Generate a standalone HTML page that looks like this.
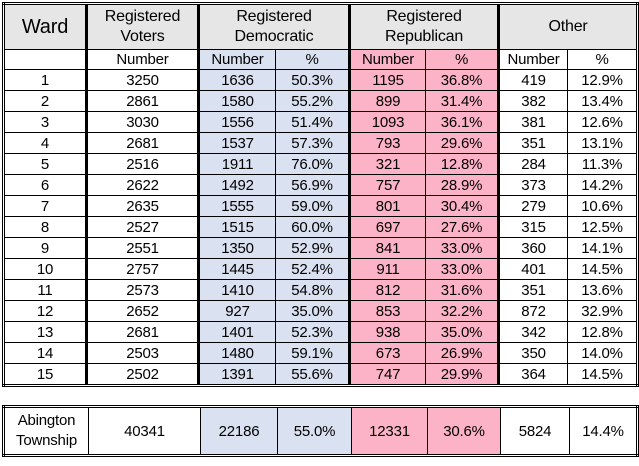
<!DOCTYPE html>
<html><head><meta charset="utf-8"><style>
body{margin:0;background:#fff;width:639px;height:466px;position:relative;overflow:hidden;font-family:"Liberation Sans",sans-serif;color:#000}
table{position:absolute;left:2px;border-collapse:collapse;border:3px double #000;table-layout:fixed}
td{border:1px solid #000;text-align:center;padding:0;font-size:15px;overflow:hidden;white-space:nowrap;letter-spacing:-0.2px}
.g{background:#e6e6e6}
.b{background:#dae1f1}
.p{background:#fdb3c7}
.t{border-left:3px solid #000}
.h td{height:44px;font-size:16px;line-height:20px}
.s td{height:19px}
.r td{height:20px}
</style></head><body>
<table style="top:2px;width:634px">
<colgroup><col style="width:83px"><col style="width:112px"><col style="width:77px"><col style="width:74px"><col style="width:76px"><col style="width:73px"><col style="width:69px"><col style="width:70px"></colgroup>
<tr class="h"><td class="g" style="font-size:20px">Ward</td><td class="g t">Registered<br>Voters</td><td class="g t" colspan="2">Registered<br>Democratic</td><td class="g t" colspan="2">Registered<br>Republican</td><td class="g t" colspan="2">Other</td></tr>
<tr class="s"><td></td><td class="t">Number</td><td class="b t">Number</td><td class="b">%</td><td class="p t">Number</td><td class="p">%</td><td class="t">Number</td><td>%</td></tr>
<tr class="r"><td>1</td><td class="t">3250</td><td class="b t">1636</td><td class="b">50.3%</td><td class="p t">1195</td><td class="p">36.8%</td><td class="t">419</td><td>12.9%</td></tr>
<tr class="r"><td>2</td><td class="t">2861</td><td class="b t">1580</td><td class="b">55.2%</td><td class="p t">899</td><td class="p">31.4%</td><td class="t">382</td><td>13.4%</td></tr>
<tr class="r"><td>3</td><td class="t">3030</td><td class="b t">1556</td><td class="b">51.4%</td><td class="p t">1093</td><td class="p">36.1%</td><td class="t">381</td><td>12.6%</td></tr>
<tr class="r"><td>4</td><td class="t">2681</td><td class="b t">1537</td><td class="b">57.3%</td><td class="p t">793</td><td class="p">29.6%</td><td class="t">351</td><td>13.1%</td></tr>
<tr class="r"><td>5</td><td class="t">2516</td><td class="b t">1911</td><td class="b">76.0%</td><td class="p t">321</td><td class="p">12.8%</td><td class="t">284</td><td>11.3%</td></tr>
<tr class="r"><td>6</td><td class="t">2622</td><td class="b t">1492</td><td class="b">56.9%</td><td class="p t">757</td><td class="p">28.9%</td><td class="t">373</td><td>14.2%</td></tr>
<tr class="r"><td>7</td><td class="t">2635</td><td class="b t">1555</td><td class="b">59.0%</td><td class="p t">801</td><td class="p">30.4%</td><td class="t">279</td><td>10.6%</td></tr>
<tr class="r"><td>8</td><td class="t">2527</td><td class="b t">1515</td><td class="b">60.0%</td><td class="p t">697</td><td class="p">27.6%</td><td class="t">315</td><td>12.5%</td></tr>
<tr class="r"><td>9</td><td class="t">2551</td><td class="b t">1350</td><td class="b">52.9%</td><td class="p t">841</td><td class="p">33.0%</td><td class="t">360</td><td>14.1%</td></tr>
<tr class="r"><td>10</td><td class="t">2757</td><td class="b t">1445</td><td class="b">52.4%</td><td class="p t">911</td><td class="p">33.0%</td><td class="t">401</td><td>14.5%</td></tr>
<tr class="r"><td>11</td><td class="t">2573</td><td class="b t">1410</td><td class="b">54.8%</td><td class="p t">812</td><td class="p">31.6%</td><td class="t">351</td><td>13.6%</td></tr>
<tr class="r"><td>12</td><td class="t">2652</td><td class="b t">927</td><td class="b">35.0%</td><td class="p t">853</td><td class="p">32.2%</td><td class="t">872</td><td>32.9%</td></tr>
<tr class="r"><td>13</td><td class="t">2681</td><td class="b t">1401</td><td class="b">52.3%</td><td class="p t">938</td><td class="p">35.0%</td><td class="t">342</td><td>12.8%</td></tr>
<tr class="r"><td>14</td><td class="t">2503</td><td class="b t">1480</td><td class="b">59.1%</td><td class="p t">673</td><td class="p">26.9%</td><td class="t">350</td><td>14.0%</td></tr>
<tr class="r"><td>15</td><td class="t">2502</td><td class="b t">1391</td><td class="b">55.6%</td><td class="p t">747</td><td class="p">29.9%</td><td class="t">364</td><td>14.5%</td></tr>
</table>
<table style="top:405px;width:634px">
<colgroup><col style="width:85px"><col style="width:112px"><col style="width:77px"><col style="width:74px"><col style="width:76px"><col style="width:73px"><col style="width:69px"><col style="width:68px"></colgroup>
<tr><td style="height:46px;line-height:20px">Abington<br>Township</td><td>40341</td><td class="b">22186</td><td class="b">55.0%</td><td class="p">12331</td><td class="p">30.6%</td><td>5824</td><td>14.4%</td></tr>
</table>
</body></html>
